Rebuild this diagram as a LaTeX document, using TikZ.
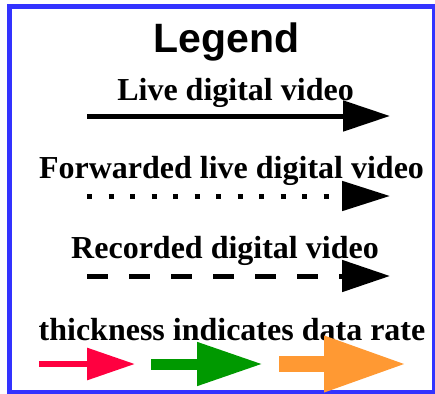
\documentclass[tikz,border=0pt]{standalone}
\usepackage{fontspec}
\setmainfont{Liberation Serif}
\newfontfamily\legendsans{Liberation Sans}
\usetikzlibrary{arrows.meta}
\definecolor{frameblue}{RGB}{51,51,255}
\definecolor{rateRed}{RGB}{255,0,64}
\definecolor{rateGreen}{RGB}{0,153,0}
\definecolor{rateOrange}{RGB}{255,153,51}
\tikzset{
  lbl/.style={anchor=base, inner sep=0pt, font=\bfseries\fontsize{32}{36}\selectfont},
  vid/.style={line width=5pt, line cap=butt},
}
\begin{document}
\begin{tikzpicture}[x=1pt,y=-1pt]
\useasboundingbox (0,0) rectangle (435,393);
\draw[frameblue, line width=5pt] (9.5,6.5) rectangle (434.5,392.5);

\node[anchor=base, inner sep=0pt, font=\legendsans\bfseries\fontsize{41}{46}\selectfont] (title) at (226.5,53) {Legend};

% Live
\node[lbl] (live) at (235.5,100) {Live digital video};
\coordinate (liveA) at (87,116);
\coordinate (liveB) at (390,116);
\draw[vid, -{Triangle[length=47pt,width=30pt]}] (liveA) -- (liveB);

% Forwarded
\node[lbl] (fwd) at (231.5,178) {Forwarded live digital video};
\coordinate (fwdA) at (87,196);
\coordinate (fwdB) at (390,196);
\draw[vid, dash pattern=on 5pt off 16.5pt, -{Triangle[length=48pt,width=29pt]}] (fwdA) -- (fwdB);

% Recorded
\node[lbl] (rec) at (225,258) {Recorded digital video};
\coordinate (recA) at (87,276);
\coordinate (recB) at (390,276);
\draw[vid, dash pattern=on 21pt off 21pt, -{Triangle[length=48pt,width=31pt]}] (recA) -- (recB);

% Thickness
\node[lbl] (thick) at (232,340) {thickness indicates data rate};
\coordinate (redA) at (39,364);
\coordinate (redB) at (135,364);
\coordinate (greenA) at (151,364);
\coordinate (greenB) at (263,364);
\coordinate (orangeA) at (279,364);
\coordinate (orangeB) at (407,364);
\draw[rateRed, line width=6pt, -{Triangle[length=48pt,width=31pt]}] (redA) -- (redB);
\draw[rateGreen, line width=11pt, -{Triangle[length=66pt,width=41pt]}] (greenA) -- (greenB);
\draw[rateOrange, line width=16pt, -{Triangle[length=83pt,width=52pt]}] (orangeA) -- (orangeB);
\end{tikzpicture}
\end{document}
